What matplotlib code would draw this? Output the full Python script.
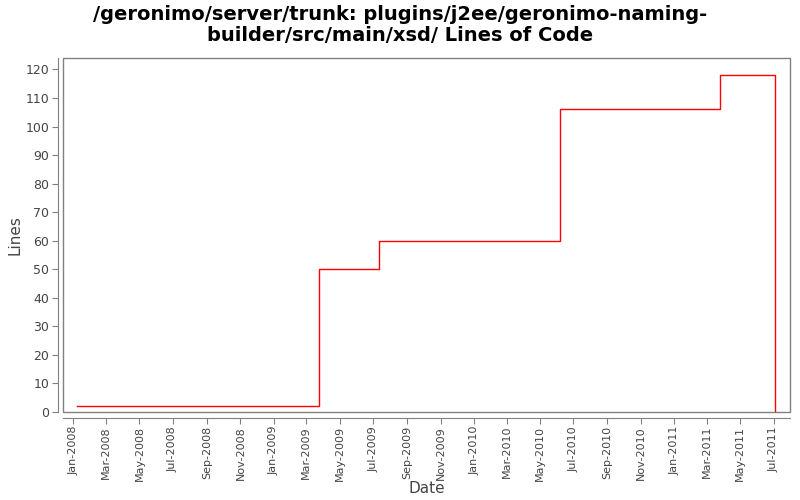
import matplotlib.pyplot as plt
import matplotlib.dates as mdates
from matplotlib.patches import Rectangle
import pandas as pd

# data
dates = pd.to_datetime(['2008-01-08', '2009-03-25', '2009-07-12', '2010-06-06',
                        '2011-03-26', '2011-07-03'])
lines = [2, 50, 60, 106, 118, 0]

title = '/geronimo/server/trunk: plugins/j2ee/geronimo-naming-\nbuilder/src/main/xsd/ Lines of Code'

fig = plt.figure(figsize=(8, 5), dpi=100)
ax = fig.add_axes([0.079, 0.176, 0.908, 0.708])

ax.plot(dates, lines, drawstyle='steps-post', color='#ff0000', linewidth=1)

ax.set_xlim(pd.Timestamp('2007-12-14'), pd.Timestamp('2011-07-30'))
ax.set_ylim(0, 124)
ax.set_yticks(range(0, 121, 10))

ax.xaxis.set_major_locator(mdates.MonthLocator(bymonth=[1, 3, 5, 7, 9, 11]))
ax.xaxis.set_major_formatter(mdates.DateFormatter('%b-%Y'))
ax.tick_params(axis='x', labelrotation=90)

gray = '#808080'
for s in ['left', 'bottom']:
    ax.spines[s].set_position(('outward', 4))
    ax.spines[s].set_color(gray)
for s in ['top', 'right']:
    ax.spines[s].set_visible(False)
ax.add_patch(Rectangle((0, 0), 1, 1, transform=ax.transAxes, fill=False,
                       edgecolor=gray, linewidth=1, clip_on=False))

ax.tick_params(colors=gray, labelcolor='#444444', labelsize=8, length=4, pad=2)
ax.tick_params(axis='y', labelsize=9)
ax.set_xlabel('Date', fontsize=11, color='#444444', labelpad=0)
ax.set_ylabel('Lines', fontsize=11, color='#444444', labelpad=2)

fig.suptitle(title, fontsize=14, fontweight='bold', y=0.99, linespacing=1.15)

plt.savefig('out.png')
